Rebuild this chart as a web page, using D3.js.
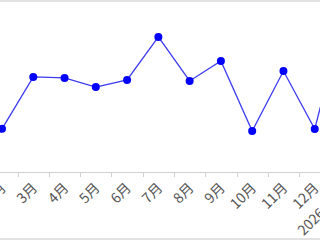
<html>
<script src="https://cdn.jsdelivr.net/npm/d3@7"></script>
<style>
  body {margin: 0; background: #fff;}
  svg {display: block;}
  text {font-family: "Noto Sans CJK SC", "Noto Sans", sans-serif; font-size: 14px; fill: #555;}
</style>
<body>
<svg width="320" height="240"></svg>
<script>
// months shown (the chart is wider than the window, so it is cut at both sides)
var months = ["2月", "3月", "4月", "5月", "6月", "7月", "8月", "9月", "10月", "11月", "12月", "2026年1月"];
var values = [27, 59.4, 58.8, 53.1, 57.5, 84.4, 56.9, 69.4, 25.6, 63.1, 26.9, 102];

var svg = d3.select("svg");

var x = d3.scalePoint().domain(months).range([2, 346]);
var y = d3.scaleLinear().domain([0, 100]).range([172, 12]);
var step = x.step();

// frame lines top and bottom
svg.append("rect").attr("x", 0).attr("y", 0).attr("width", 320).attr("height", 2).attr("fill", "#e2e2e2");
svg.append("rect").attr("x", 0).attr("y", 238).attr("width", 320).attr("height", 2).attr("fill", "#e2e2e2");

// x axis
var ax = svg.append("g");
ax.append("line").attr("x1", 0).attr("x2", 320).attr("y1", 172.5).attr("y2", 172.5)
  .attr("stroke", "#d0d0d0");
ax.selectAll(".tick").data(months).enter().append("line")
  .attr("x1", function(d){ return Math.round(x(d) - step / 2) + 0.5; })
  .attr("x2", function(d){ return Math.round(x(d) - step / 2) + 0.5; })
  .attr("y1", 172).attr("y2", 177)
  .attr("stroke", "#d0d0d0");
ax.selectAll("text").data(months).enter().append("text")
  .attr("transform", function(d){ return "translate(" + (x(d) - 2) + ",182) rotate(-45)"; })
  .attr("text-anchor", "end")
  .attr("dy", "0.7em")
  .text(function(d){ return d; });

// line and points
var line = d3.line()
  .x(function(d, i){ return x(months[i]); })
  .y(function(d){ return y(d); });

svg.append("path").datum(values)
  .attr("d", line)
  .attr("fill", "none")
  .attr("stroke", "#3a3af0")
  .attr("stroke-width", 1.3);

svg.selectAll("circle").data(values).enter().append("circle")
  .attr("cx", function(d, i){ return x(months[i]); })
  .attr("cy", function(d){ return y(d); })
  .attr("r", 4)
  .attr("fill", "#0000ff");
</script>
</body>
</html>
